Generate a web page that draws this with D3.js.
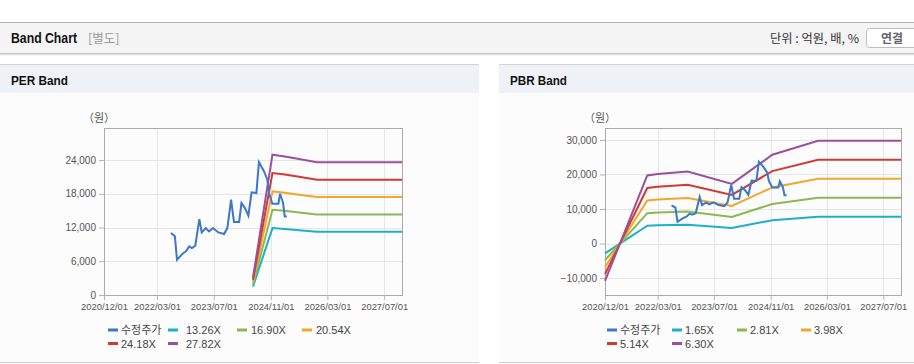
<!DOCTYPE html>
<html>
<head>
<meta charset="utf-8">
<script src="https://cdnjs.cloudflare.com/ajax/libs/d3/7.8.5/d3.min.js"></script>
<style>
  body { margin: 0; background: #fff; }
  svg { display: block; font-family: "Liberation Sans", Arial, "Noto Sans CJK KR", sans-serif; }
</style>
</head>
<body>
<svg id="chart" width="914" height="364"></svg>
<script>
// ---- data ----
var tickDates = ["2020-12-01", "2022-03-01", "2023-07-01", "2024-11-01", "2026-03-01", "2027-07-01"];

// adjusted share price (shared by both charts)
var priceDates = ["2022-06-28", "2022-08-01", "2022-08-19", "2022-10-06", "2022-11-04", "2022-12-02",
  "2022-12-25", "2023-01-23", "2023-02-27", "2023-03-19", "2023-04-23", "2023-05-21", "2023-06-24",
  "2023-08-09", "2023-09-27", "2023-10-25", "2023-11-26", "2023-12-21", "2024-02-03", "2024-02-23",
  "2024-03-24", "2024-04-22", "2024-05-20", "2024-06-30", "2024-07-22", "2024-09-04", "2024-10-02",
  "2024-10-16", "2024-11-14", "2025-01-05", "2025-01-19", "2025-02-14", "2025-02-28", "2025-03-18"];
var priceValues = [11020, 10430, 6280, 7340, 7760, 8650, 8350, 8760, 13500, 11130, 11900, 11310, 11900,
  11130, 10840, 11900, 16940, 12970, 12970, 16350, 15460, 14100, 18250, 18130, 23640, 21980, 20500,
  18130, 16230, 16230, 18010, 16350, 13980, 13980];

// PER band
var perLabels = ["13.26X", "16.90X", "20.54X", "24.18X", "27.82X"];
var perDates = ["2024-06-01", "2024-11-15", "2025-03-01", "2025-07-01", "2025-12-01", "2027-12-01"];
var perBand1 = [1485, 11894, 11748, 11523, 11244, 11244];
var perBand2 = [1893, 15159, 14973, 14686, 14331, 14331];
var perBand3 = [2300, 18424, 18198, 17849, 17418, 17418];
var perBand4 = [2708, 21689, 21423, 21012, 20505, 20505];
var perBand5 = [3116, 24955, 24649, 24176, 23591, 23591];

// PBR band
var pbrLabels = ["1.65X", "2.81X", "3.98X", "5.14X", "6.30X"];
var pbrDates = ["2020-12-01", "2021-12-01", "2022-03-01", "2022-11-15", "2023-12-01", "2024-11-15", "2025-12-15", "2027-12-01"];
var pbrBand1 = [-2838, 5165, 5280, 5462, 4521, 6732, 7788, 7788];
var pbrBand2 = [-4833, 8795, 8990, 9301, 7699, 11465, 13263, 13263];
var pbrBand3 = [-6846, 12457, 12740, 13174, 10905, 16238, 18786, 18786];
var pbrBand4 = [-8841, 16088, 16450, 17013, 14084, 20971, 24261, 24261];
var pbrBand5 = [-10836, 19719, 20160, 20853, 17262, 25704, 29736, 29736];

var colors = ["#3b78c8", "#1cb1c6", "#8cb851", "#f4a62a", "#d03a30", "#9c4f9c"];

var parse = d3.timeParse("%Y-%m-%d");
var svg = d3.select("#chart");

// ---- page header ----
svg.append("rect").attr("x", 0).attr("y", 22).attr("width", 914).attr("height", 31).attr("fill", "#f4f4f4");
svg.append("line").attr("x1", 0).attr("x2", 914).attr("y1", 22.5).attr("y2", 22.5).attr("stroke", "#b4b4b4");
svg.append("line").attr("x1", 0).attr("x2", 914).attr("y1", 53.5).attr("y2", 53.5).attr("stroke", "#c6c6c6");
svg.append("line").attr("x1", 0).attr("x2", 914).attr("y1", 54.5).attr("y2", 54.5).attr("stroke", "#e4e4e4");
svg.append("line").attr("x1", 0).attr("x2", 914).attr("y1", 55.5).attr("y2", 55.5).attr("stroke", "#f2f2f2");

svg.append("text").attr("x", 11).attr("y", 43)
  .attr("font-size", 14).attr("font-weight", 700).attr("fill", "#111")
  .attr("textLength", 66).attr("lengthAdjust", "spacingAndGlyphs")
  .text("Band Chart");
svg.append("text").attr("x", 88).attr("y", 43)
  .attr("font-size", 12.5).attr("fill", "#999")
  .attr("font-family", "'Noto Sans CJK KR', sans-serif")
  .text("[별도]");
svg.append("text").attr("x", 859).attr("y", 43).attr("text-anchor", "end")
  .attr("font-size", 12).attr("fill", "#333")
  .attr("font-family", "'Noto Sans CJK KR', sans-serif")
  .attr("textLength", 89).attr("lengthAdjust", "spacingAndGlyphs")
  .text("단위 : 억원, 배, %");
svg.append("rect").attr("x", 866.5).attr("y", 28.5).attr("width", 60).attr("height", 19).attr("rx", 3)
  .attr("fill", "#fff").attr("stroke", "#bdbdbd");
svg.append("text").attr("x", 892).attr("y", 42.5).attr("text-anchor", "middle")
  .attr("font-size", 12).attr("font-weight", 700).attr("fill", "#666")
  .attr("font-family", "'Noto Sans CJK KR', sans-serif")
  .text("연결");

// ---- panels ----
function drawPanel(cfg) {
  var g = svg.append("g");
  g.append("rect").attr("x", cfg.px).attr("y", 64).attr("width", cfg.pw).attr("height", 299).attr("fill", "#fcfcfc");
  g.append("rect").attr("x", cfg.px).attr("y", 65).attr("width", cfg.pw).attr("height", 28).attr("fill", "#eef2f6");
  g.append("line").attr("x1", cfg.px).attr("x2", cfg.px + cfg.pw).attr("y1", 64.5).attr("y2", 64.5).attr("stroke", "#d2d2d2");
  g.append("line").attr("x1", cfg.px).attr("x2", cfg.px + cfg.pw).attr("y1", 362.5).attr("y2", 362.5).attr("stroke", "#cfcfcf");
  g.append("text").attr("x", cfg.px + 11).attr("y", 84.5)
    .attr("font-size", 13.5).attr("font-weight", 700).attr("fill", "#111")
    .attr("textLength", 57).attr("lengthAdjust", "spacingAndGlyphs")
    .text(cfg.title);

  var x = d3.scaleTime()
    .domain([parse("2020-12-01"), parse("2027-12-01")])
    .range([cfg.left, cfg.right]);
  var y = d3.scaleLinear()
    .domain(cfg.yDomain)
    .range([cfg.bottom, cfg.top]);

  // grid
  g.append("g").selectAll("line.h").data(cfg.yTicks).enter().append("line")
    .attr("x1", cfg.left).attr("x2", cfg.right)
    .attr("y1", d => Math.round(y(d)) + 0.5).attr("y2", d => Math.round(y(d)) + 0.5)
    .attr("stroke", "#e6e6e6");
  g.append("g").selectAll("line.v").data(tickDates).enter().append("line")
    .attr("x1", d => Math.round(x(parse(d))) + 0.5).attr("x2", d => Math.round(x(parse(d))) + 0.5)
    .attr("y1", cfg.top).attr("y2", cfg.bottom)
    .attr("stroke", "#e6e6e6");

  // axes
  var leftAxis = d3.axisLeft(y).tickValues(cfg.yTicks).tickFormat(d3.format(",")).tickSize(5).tickPadding(3);
  var bottomAxis = d3.axisBottom(x).tickValues(tickDates.map(parse)).tickFormat(d3.timeFormat("%Y/%m/%d")).tickSize(5).tickPadding(3);
  var ya = g.append("g").attr("transform", `translate(${cfg.left},0)`).call(leftAxis);
  var xa = g.append("g").attr("transform", `translate(0,${cfg.bottom})`).call(bottomAxis);
  [ya, xa].forEach(function(a) {
    a.select(".domain").remove();
    a.selectAll("line").attr("stroke", "#b5b5b5");
    a.selectAll("text").attr("fill", "#555").attr("font-family", "'Liberation Sans', Arial, sans-serif");
  });
  ya.selectAll("text").attr("font-size", 10);
  xa.selectAll("text").attr("font-size", 9.4);

  // plot border
  g.append("rect").attr("x", cfg.left + 0.5).attr("y", cfg.top + 0.5)
    .attr("width", cfg.right - cfg.left).attr("height", cfg.bottom - cfg.top)
    .attr("fill", "none").attr("stroke", "#aaa");

  g.append("text").attr("x", cfg.left - 5).attr("y", 122).attr("text-anchor", "middle")
    .attr("font-size", 11).attr("fill", "#555")
    .attr("font-family", "'Noto Sans CJK KR', sans-serif")
    .text("（원）");

  var line = d3.line().x(d => x(d.date)).y(d => y(d.value));

  // bands
  cfg.bands.forEach(function(vals, i) {
    var pts = cfg.bandDates.map((d, j) => ({ date: parse(d), value: vals[j] }));
    g.append("path").datum(pts).attr("d", line)
      .attr("fill", "none").attr("stroke", colors[i + 1]).attr("stroke-width", 2);
  });
  // price
  var pricePts = priceDates.map((d, j) => ({ date: parse(d), value: priceValues[j] }));
  g.append("path").datum(pricePts).attr("d", line)
    .attr("fill", "none").attr("stroke", colors[0]).attr("stroke-width", 2);

  // legend
  var names = ["수정주가"].concat(cfg.labels);
  names.forEach(function(n, i) {
    var row = i < 4 ? 0 : 1;
    var col = i < 4 ? i : i - 4;
    var lx = cfg.legendX[col];
    var ly = row === 0 ? 330 : 343.5;
    g.append("line").attr("x1", lx).attr("x2", lx + 10).attr("y1", ly).attr("y2", ly)
      .attr("stroke", colors[i]).attr("stroke-width", 3);
    g.append("text").attr("x", lx + cfg.legendGap[col]).attr("y", ly + 4)
      .attr("font-size", 11).attr("fill", "#444")
      .attr("font-family", "'Liberation Sans', Arial, 'Noto Sans CJK KR', sans-serif")
      .text(n);
  });
}

drawPanel({
  title: "PER Band", px: 0, pw: 479,
  left: 104, right: 402, top: 128, bottom: 295,
  yDomain: [0, 29700], yTicks: [0, 6000, 12000, 18000, 24000],
  bandDates: perDates, bands: [perBand1, perBand2, perBand3, perBand4, perBand5], labels: perLabels,
  legendX: [108, 168, 237, 302], legendGap: [13, 18, 14, 14]
});
drawPanel({
  title: "PBR Band", px: 499, pw: 415,
  left: 605, right: 901, top: 128, bottom: 295,
  yDomain: [-14900, 33450], yTicks: [-10000, 0, 10000, 20000, 30000],
  bandDates: pbrDates, bands: [pbrBand1, pbrBand2, pbrBand3, pbrBand4, pbrBand5], labels: pbrLabels,
  legendX: [607, 672, 737, 801], legendGap: [13, 13, 13, 13]
});
</script>
</body>
</html>
